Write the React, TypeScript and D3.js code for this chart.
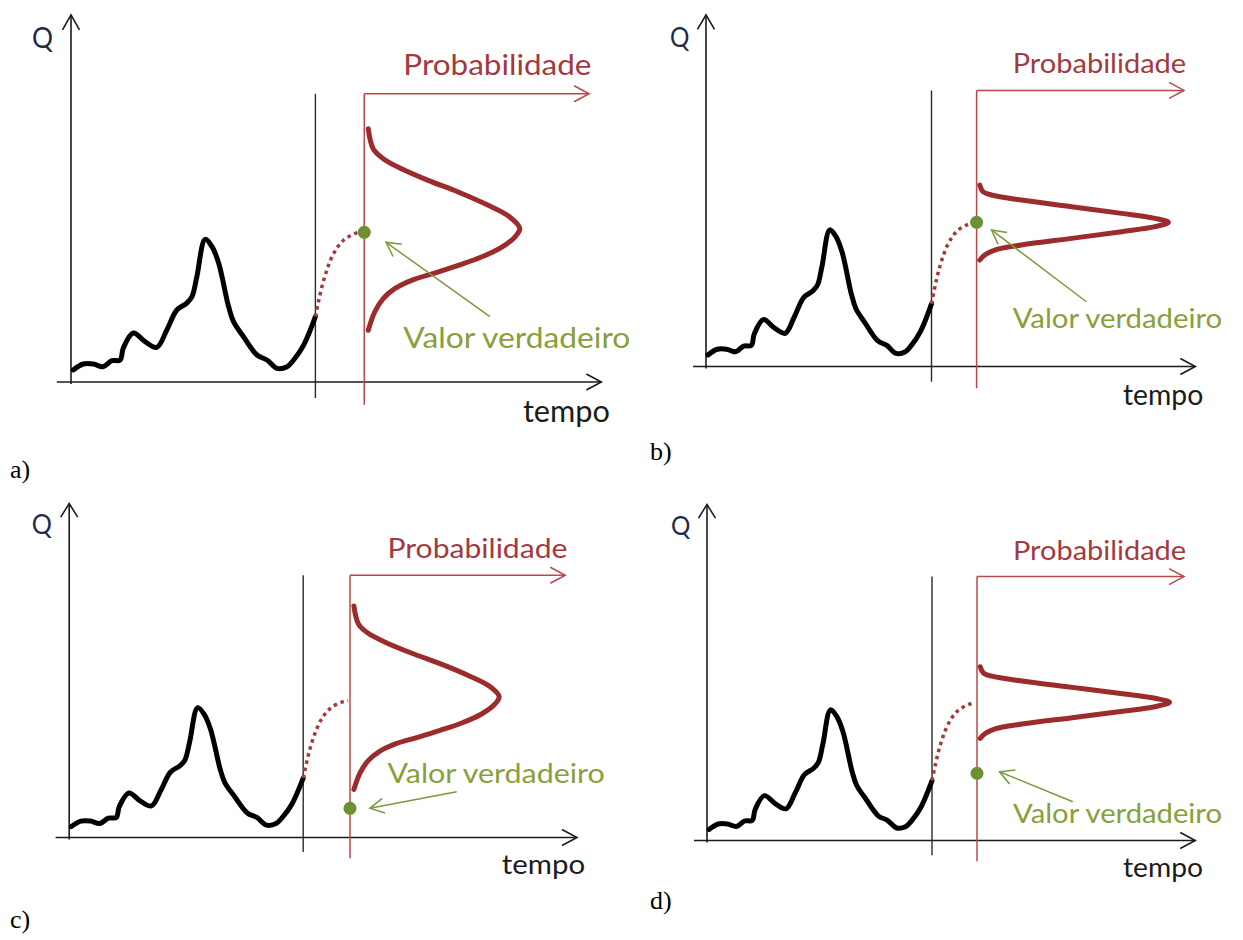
import React from "react";
import * as d3 from "d3";

// ---- data ----
// observed hydrograph (time units, discharge units)
const hydroTime = [0.9, 5.0, 9.1, 13.1, 16.7, 20.1, 21.4, 25.5, 30.3, 35.1, 39.2, 43.3, 47.4, 49.5, 51.5, 54.9, 57.7, 60.4, 64.5, 66.5, 70.6, 76.1, 80.2, 84.3, 88.4, 91.1, 95.2, 100];
const hydroFlow = [8.5, 12.7, 12.7, 10.8, 15, 15.5, 23.9, 34.5, 28.4, 24.4, 36.6, 50.7, 55.6, 60.1, 74.2, 100.5, 95.3, 83.8, 53, 42.5, 31.9, 19, 15.5, 9.6, 10.8, 15.5, 26, 46];

// dotted forecast trajectory
const forecastTime = [100, 103.4, 107.5, 111.6, 116.4, 119.2];
const forecastFlow = [46, 71.8, 90.6, 100, 104.7, 106];

// probability distributions (offset from mean in Q units, relative density)
const wideOffset = [70.2, 56.1, 49.1, 42.0, 33.8, 25.6, 16.2, 8.0, 0, -6.1, -13.4, -20.2, -26.1, -31.5, -36.6, -42.5, -49.5, -58.9, -71.8];
const wideDensity = [0.016, 0.048, 0.113, 0.232, 0.405, 0.6, 0.795, 0.935, 1, 0.968, 0.881, 0.751, 0.6, 0.448, 0.297, 0.188, 0.113, 0.058, 0.016];
const narrowOffset = [27.4, 22.5, 20.1, 16.4, 11.5, 6.6, 2.9, 0, -3.2, -6.9, -11.8, -16.7, -20.4, -24, -27.7];
const narrowDensity = [0.009, 0.026, 0.07, 0.228, 0.491, 0.754, 0.93, 1, 0.93, 0.754, 0.491, 0.228, 0.087, 0.035, 0.009];

// per panel
const panelNames = ["a)", "b)", "c)", "d)"];
const distKind = ["wide", "narrow", "wide", "narrow"];
const distMean = [108.2, 106, 109, 106.3];
const distPeak = [63, 84.4, 63.1, 84.9];
const trueValue = [105.4, 106, 22.6, 51.7];
const labelQ = [23.7, 28.1, 42.2, 13.2];
const arrowFromT = [171.4, 168.7, 165.6, 162.6];
const arrowFromQ = [46, 47.6, 35.4, 29.8];
const arrowToT = [128.9, 126.6, 128.5, 130];
const arrowToQ = [98.4, 100.4, 22.6, 52.9];

// text labels
const labelQText = "Q";
const labelTime = "tempo";
const labelProb = "Probabilidade";
const labelTrue = "Valor verdadeiro";

// ---- layout (pixels) ----
const layout = [
  { x0: 71, sx: 2.444, base: 382, k: 1.42, lx: 10, ly: 478 },
  { x0: 706, sx: 2.255, base: 366.5, k: 1.36, lx: 650, ly: 460 },
  { x0: 69.2, sx: 2.34, base: 837.5, k: 1.292, lx: 10, ly: 928 },
  { x0: 707, sx: 2.25, base: 840.5, k: 1.3, lx: 650, ly: 909 },
];

const RED_THIN = "#b9474b";
const RED_CURVE = "#9c2b2e";
const RED_TEXT = "#a3393d";
const GREEN = "#7b9a3a";
const GREEN_TEXT = "#88a03a";
const GREEN_DOT = "#6f8f33";
const INK = "#1b1b1b";
const SANS = "Lato, 'Open Sans', sans-serif";

function arrowHead(x1: number, y1: number, x2: number, y2: number, len: number, half: number) {
  const dx = x2 - x1, dy = y2 - y1;
  const L = Math.hypot(dx, dy);
  const ux = dx / L, uy = dy / L;
  const px = -uy, py = ux;
  const bx = x2 - ux * len, by = y2 - uy * len;
  return `M${bx + px * half},${by + py * half}L${x2},${y2}L${bx - px * half},${by - py * half}`;
}

function Panel({ i }: { i: number }) {
  const L = layout[i];
  const x = d3.scaleLinear().domain([0, 120]).range([L.x0, L.x0 + 120 * L.sx]);
  const y = d3.scaleLinear().domain([0, 100]).range([L.base, L.base - 100 * L.k]);
  const vs = L.k / 1.42;
  const hs = L.sx / 2.444;
  const fs = 29 * vs;

  const hydro = d3
    .line<number>()
    .x((_, j) => x(hydroTime[j]))
    .y((_, j) => y(hydroFlow[j]))
    .curve(d3.curveCatmullRom.alpha(0.5))(hydroFlow) as string;

  const fc = d3
    .line<number>()
    .x((_, j) => x(forecastTime[j]))
    .y((_, j) => y(forecastFlow[j]))
    .curve(d3.curveCatmullRom.alpha(0.5))(forecastFlow) as string;

  const offs = distKind[i] === "wide" ? wideOffset : narrowOffset;
  const dens = distKind[i] === "wide" ? wideDensity : narrowDensity;
  const dScale = d3.scaleLinear().domain([0, 1]).range([x(120), x(120 + distPeak[i])]);
  const dist = d3
    .line<number>()
    .x((_, j) => dScale(dens[j]) + 1.5)
    .y((_, j) => y(distMean[i] + offs[j]))
    .curve(d3.curveCatmullRom.alpha(0.5))(offs) as string;

  const axTopY = y(258.5);
  const axX0 = x(-5.8);
  const axX1 = x(217);
  const topQ = y(203);

  const ax1 = x(arrowFromT[i]), ay1 = y(arrowFromQ[i]);
  const ax2 = x(arrowToT[i]), ay2 = y(arrowToQ[i]);

  return (
    <g>
      {/* Q axis */}
      <line x1={x(0)} y1={y(0) + 2} x2={x(0)} y2={axTopY} stroke={INK} strokeWidth={1.6} />
      <path d={arrowHead(x(0), y(0), x(0), axTopY, 15 * vs, 8.5)} fill="none" stroke={INK} strokeWidth={1.6} />
      {/* time axis */}
      <line x1={axX0} y1={y(0)} x2={axX1} y2={y(0)} stroke={INK} strokeWidth={1.6} />
      <path d={arrowHead(axX0, y(0), axX1, y(0), 15, 8)} fill="none" stroke={INK} strokeWidth={1.6} />
      <text x={x(-16)} y={y(235)} fontFamily={SANS} fontSize={fs} fill="#1d2a44" textLength={21 * hs} lengthAdjust="spacingAndGlyphs">{labelQText}</text>
      <text x={x(220.5) - 87 * hs} y={y(-28)} fontFamily={SANS} fontSize={fs + 1} fill={INK} textLength={87 * hs} lengthAdjust="spacingAndGlyphs">{labelTime}</text>

      {/* forecast instant */}
      <line x1={x(100)} y1={topQ} x2={x(100)} y2={y(-11.3)} stroke="#2a2a2a" strokeWidth={1.4} />
      {/* probability axis */}
      <line x1={x(120)} y1={topQ} x2={x(120)} y2={y(-16)} stroke={RED_THIN} strokeWidth={1.5} />
      <line x1={x(120)} y1={topQ} x2={x(212)} y2={topQ} stroke={RED_THIN} strokeWidth={1.5} />
      <path d={arrowHead(x(120), topQ, x(212), topQ, 15, 8)} fill="none" stroke={RED_THIN} strokeWidth={1.5} />
      <text x={x(136)} y={y(216)} fontFamily={SANS} fontSize={fs} fill={RED_TEXT} textLength={188 * hs} lengthAdjust="spacingAndGlyphs">{labelProb}</text>

      {/* hydrograph */}
      <path d={hydro} fill="none" stroke="#000" strokeWidth={5} strokeLinejoin="round" strokeLinecap="round" />
      {/* forecast dotted */}
      <path d={fc} fill="none" stroke="#a3393c" strokeWidth={3.5} strokeDasharray="3.5,3.8" />
      {/* distribution */}
      <path d={dist} fill="none" stroke={RED_CURVE} strokeWidth={5} strokeLinecap="round" strokeLinejoin="round" />

      {/* true value */}
      <circle cx={x(120)} cy={y(trueValue[i])} r={6.5} fill={GREEN_DOT} />
      <line x1={ax1} y1={ay1} x2={ax2} y2={ay2} stroke={GREEN} strokeWidth={1.5} />
      <path d={arrowHead(ax1, ay1, ax2, ay2, 14, 7.5)} fill="none" stroke={GREEN} strokeWidth={1.5} />
      <text x={x(136)} y={y(labelQ[i])} fontFamily={SANS} fontSize={fs} fill={GREEN_TEXT} textLength={227 * hs} lengthAdjust="spacingAndGlyphs">{labelTrue}</text>

      <text x={L.lx} y={L.ly} fontFamily="'Liberation Serif', 'Times New Roman', serif" fontSize={26} fill="#000">{panelNames[i]}</text>
    </g>
  );
}

export default function App() {
  return (
    <svg
      width={1243}
      height={940}
      viewBox="0 0 1243 940"
      style={{ position: "absolute", left: 0, top: 0, background: "#fff" }}
    >
      <rect width={1243} height={940} fill="#fff" />
      {[0, 1, 2, 3].map((i) => (
        <Panel key={i} i={i} />
      ))}
    </svg>
  );
}
